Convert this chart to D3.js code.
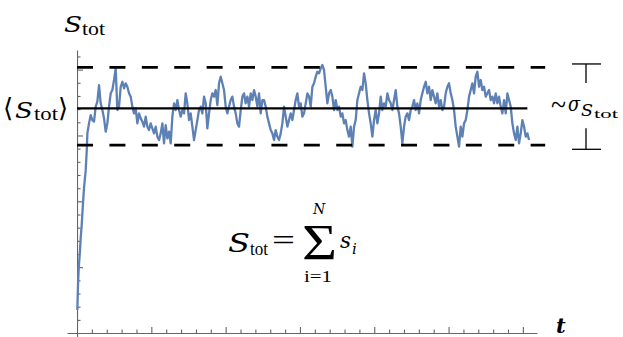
<!DOCTYPE html>
<html>
<head>
<meta charset="utf-8">
<script src="https://cdn.jsdelivr.net/npm/d3@7"></script>
<style>
  body { margin: 0; background: #fff; }
</style>
</head>
<body>
<svg id="chart" width="623" height="337"></svg>
<script>
// initial climb from zero up to the steady state
const rampT = [0.004, 0.013, 0.023, 0.040, 0.050, 0.063, 0.077, 0.094, 0.117, 0.131];
const rampS = [1.75, 3.64, 4.94, 6.30, 7.29, 8.20, 9.57, 11.01, 12.38, 13.90];

// fluctuating part, sampled every walkStep in t starting at walkStart
const walkStart = 0.139;
const walkStep = 0.02243;
const walkS = [
  15.16, 15.92, 16.55, 16.17, 16.05, 17.19, 17.57, 18.83, 17.44, 16.93,
  16.30, 15.29, 15.92, 17.19, 18.20, 18.45, 19.21, 20.10, 16.93, 17.19,
  18.70, 19.08, 18.58, 18.96, 18.70, 18.20, 17.95, 17.19, 16.68, 17.06,
  15.92, 16.68, 16.30, 16.05, 15.67, 16.43, 15.67, 15.41, 15.92, 15.54,
  15.16, 15.67, 14.91, 14.65, 15.16, 15.92, 14.40, 15.79, 14.78, 15.29,
  14.40, 16.43,
  17.44, 16.93, 17.69, 16.93, 16.43, 16.93, 16.68, 18.20, 17.44, 16.17,
  16.68, 15.67, 14.65, 15.41, 16.17, 16.93, 17.19, 16.68, 17.95, 17.44,
  15.54, 16.68, 17.69, 18.20, 17.95, 18.45, 17.31, 18.96, 19.46, 18.96,
  18.45, 17.19, 16.68, 17.19, 17.69, 17.95, 17.19, 16.68, 15.92, 15.67,
  16.93, 17.95, 18.20, 17.44, 17.95, 17.19, 18.20, 17.69, 18.45, 17.95,
  17.19, 18.20, 16.68, 17.69,
  17.69, 17.19, 16.43, 15.92, 15.41, 15.16, 14.65, 15.41, 14.91, 14.65,
  15.16, 15.92, 17.19, 16.43, 15.67, 16.17, 16.68, 16.17, 16.93, 17.69,
  18.20, 17.19, 17.44, 16.43, 16.68, 17.44, 18.20, 17.95, 17.19, 18.70,
  18.96, 19.46, 19.84, 19.72, 20.10, 20.35, 19.97, 18.70, 17.44, 18.20,
  18.45, 17.95, 16.93, 17.69, 16.93, 17.19, 16.43, 16.68, 15.92, 16.17,
  15.41, 14.91, 15.67, 14.15,
  15.67, 16.17, 17.69, 18.20, 18.70, 18.45, 19.72, 18.96, 17.69, 16.68,
  15.92, 14.91, 16.17, 16.93, 15.92, 16.68, 17.95, 16.93, 17.44, 17.19,
  18.20, 17.69, 17.44, 16.93, 17.69, 18.45, 17.19, 16.68, 15.67, 14.40,
  15.67, 16.43, 16.68, 16.17, 16.93, 17.19, 17.69, 16.93, 17.44, 16.68,
  17.69, 18.20, 18.70, 19.08, 18.20, 18.70, 17.69, 18.45, 17.95, 17.44,
  18.20, 17.19, 17.69, 16.93,
  17.19, 18.20, 18.70, 18.96, 18.20, 17.69, 16.93, 15.67, 14.91, 14.15,
  15.67, 14.91, 15.92, 16.17, 16.93, 17.95, 18.45, 18.96, 18.20, 19.46,
  19.84, 18.70, 19.21, 18.45, 18.70, 17.95, 18.20, 18.45, 17.69, 17.95,
  17.44, 18.20, 17.44, 17.95, 17.19, 16.68, 17.69, 16.68, 18.20, 17.69,
  17.19, 15.92, 15.16, 14.65, 15.67, 14.40, 15.16, 16.17, 15.67, 14.91,
  15.16, 14.65
];

// reference levels
const meanS = 17.06;
const upperS = 20.17;
const lowerS = 14.27;
const meanEndT = 6.06;
const bandEndT = 6.3;
const sigmaBarS = [20.43, 13.95];

// axis ticks
const xMajor = [1, 2, 3, 4, 5, 6];
const xMinor = d3.range(1, 31).map(d => d / 5).filter(d => d % 1 !== 0);
const yMajor = [5, 10, 15, 20];
const yMinor = d3.range(1, 22).filter(d => d % 5 !== 0);

const svg = d3.select("#chart");
const x = d3.scaleLinear().domain([-0.135, 6.19]).range([67, 537]);
const y = d3.scaleLinear().domain([-0.3, 21.49]).range([337, 50]);

const axisColor = "#666";
const serif = "'Liberation Serif', 'Times New Roman', serif";
const italicSerif = "'DejaVu Serif', serif";

// x axis
const gx = svg.append("g").attr("transform", `translate(0,${y(0)})`);
gx.call(d3.axisBottom(x).tickValues(xMinor).tickSize(-3.5).tickSizeOuter(0).tickFormat(""));
gx.append("g").call(d3.axisBottom(x).tickValues(xMajor).tickSize(-6).tickSizeOuter(0).tickFormat(""))
  .select(".domain").remove();
gx.selectAll("path, line").attr("stroke", axisColor).attr("stroke-width", 1.1);

// y axis
const gy = svg.append("g").attr("transform", `translate(${x(0)},0)`);
gy.call(d3.axisLeft(y).tickValues(yMinor).tickSize(-3.5).tickSizeOuter(0).tickFormat(""));
gy.append("g").call(d3.axisLeft(y).tickValues(yMajor).tickSize(-6).tickSizeOuter(0).tickFormat(""))
  .select(".domain").remove();
gy.selectAll("path, line").attr("stroke", axisColor).attr("stroke-width", 1.1);

// series
const points = rampT.map((t, i) => [t, rampS[i]])
  .concat(walkS.map((s, i) => [walkStart + i * walkStep, s]));
const line = d3.line().x(d => x(d[0])).y(d => y(d[1]));
svg.append("path")
  .datum(points)
  .attr("d", line)
  .attr("fill", "none")
  .attr("stroke", "#5E81B5")
  .attr("stroke-width", 2.3)
  .attr("stroke-linejoin", "round");

// mean and band lines
svg.append("line")
  .attr("x1", x(0)).attr("x2", x(meanEndT))
  .attr("y1", y(meanS)).attr("y2", y(meanS))
  .attr("stroke", "#000").attr("stroke-width", 2.4);
[upperS, lowerS].forEach(v => {
  svg.append("line")
    .attr("x1", x(0)).attr("x2", x(bandEndT))
    .attr("y1", y(v)).attr("y2", y(v))
    .attr("stroke", "#000").attr("stroke-width", 2.6)
    .attr("stroke-dasharray", "16,16.4");
});

// sigma bracket on the right
const bx = 586;
svg.append("line").attr("x1", bx - 14).attr("x2", bx + 15)
  .attr("y1", y(sigmaBarS[0])).attr("y2", y(sigmaBarS[0])).attr("stroke", "#000").attr("stroke-width", 1.3);
svg.append("line").attr("x1", bx).attr("x2", bx)
  .attr("y1", y(sigmaBarS[0])).attr("y2", y(sigmaBarS[0]) + 19).attr("stroke", "#000").attr("stroke-width", 1.3);
svg.append("line").attr("x1", bx - 14).attr("x2", bx + 15)
  .attr("y1", y(sigmaBarS[1])).attr("y2", y(sigmaBarS[1])).attr("stroke", "#000").attr("stroke-width", 1.3);
svg.append("line").attr("x1", bx).attr("x2", bx)
  .attr("y1", y(sigmaBarS[1])).attr("y2", y(sigmaBarS[1]) - 21).attr("stroke", "#000").attr("stroke-width", 1.3);

function txt(str, px, py, size, opts = {}) {
  const t = svg.append("text").attr("x", px).attr("y", py)
    .attr("font-size", size)
    .attr("font-family", opts.family || (opts.italic ? italicSerif : serif))
    .attr("fill", "#000")
    .text(str);
  if (opts.italic) t.attr("font-style", "italic");
  if (opts.weight) t.attr("font-weight", opts.weight);
  if (opts.len) t.attr("textLength", opts.len).attr("lengthAdjust", "spacingAndGlyphs");
  if (opts.anchor) t.attr("text-anchor", opts.anchor);
  return t;
}

// y label
txt("S", 64, 32, 22, {italic: true, len: 18});
txt("tot", 82, 35, 18, {len: 23});

// mean label
const my = y(meanS);
txt("\u27E8", 3, my + 9, 26, {family: "'DejaVu Serif', serif"});
txt("S", 15, my + 10, 23, {italic: true, len: 18});
txt("tot", 34, my + 12, 18, {len: 24});
txt("\u27E9", 58, my + 9, 26, {family: "'DejaVu Serif', serif"});

// sigma label
txt("~", 551, my + 7, 30, {len: 15});
txt("\u03C3", 568, my + 3, 21, {italic: true, len: 12});
txt("S", 581, my + 8, 16, {italic: true, len: 12});
txt("tot", 594, my + 10, 13, {len: 24});

// t label
txt("t", 556, 333, 21, {italic: true, weight: "bold"});

// formula
txt("S", 228, 252, 26, {italic: true, len: 22});
txt("tot", 250, 255, 19, {len: 18});
txt("=", 272, 250, 30, {len: 23});
txt("\u03A3", 302, 259, 50, {len: 35});
txt("N", 319, 214, 14, {italic: true, anchor: "middle"});
txt("i=1", 318, 282, 16, {anchor: "middle", len: 28});
txt("s", 340, 248, 23, {italic: true, len: 11});
txt("i", 352, 254, 15, {italic: true});
</script>
</body>
</html>
